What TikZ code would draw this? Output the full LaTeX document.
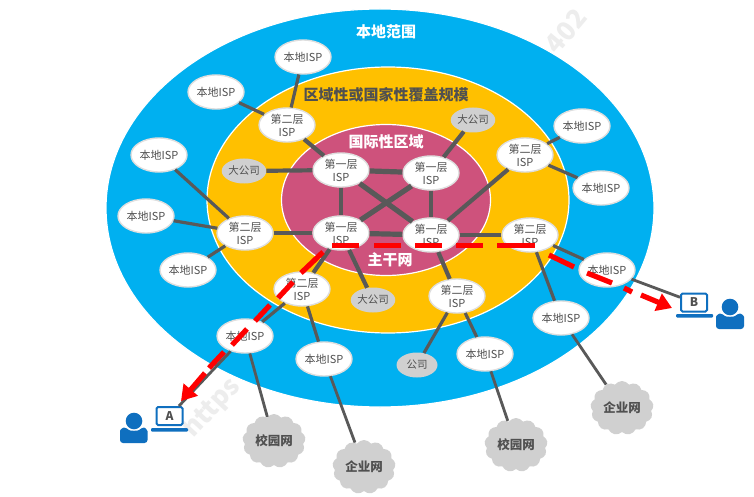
\documentclass[tikz,border=0pt]{standalone}
\usepackage{fontspec}
\setmainfont{Noto Sans CJK SC}
\usetikzlibrary{shapes.geometric,shapes.symbols,arrows.meta}
\definecolor{skyb}{HTML}{00B0F0}
\definecolor{amber}{HTML}{FFC000}
\definecolor{rose}{HTML}{CE527C}
\definecolor{ink}{HTML}{595959}
\definecolor{lbl}{HTML}{505050}
\definecolor{pale}{HTML}{D0D0D0}
\definecolor{devblue}{HTML}{0F6FBF}
\tikzset{
  x=1pt,y=-1pt,
  zone/.style={draw=white,line width=1.2pt,ellipse,inner sep=0pt},
  ispnode/.style={ellipse,draw=black!13,fill=white,line width=1.4pt,inner sep=0pt,minimum width=56pt,minimum height=34pt,text=lbl,font=\fontsize{11}{13}\selectfont,align=center},
  corp/.style={ellipse,fill=pale,inner sep=0pt,minimum width=41pt,minimum height=25pt,text=lbl,font=\fontsize{10.5}{12}\selectfont},
  campus/.style={cloud,cloud puffs=13,cloud puff arc=110,aspect=1.15,fill=pale,inner sep=0pt,minimum width=63pt,minimum height=54pt,text=lbl,font=\bfseries\fontsize{12.5}{14}\selectfont},
  thick1/.style={draw=ink,line width=5.2pt},
  thick2/.style={draw=ink,line width=4.2pt},
  thick3/.style={draw=ink,line width=3.2pt},
  thick4/.style={draw=ink,line width=2.8pt},
  redmark/.style={draw=red,line width=5.2pt},
  redtip/.style={draw=red,line width=5.2pt,-{Triangle[length=15pt,width=18pt]}},
  screen/.style={draw=devblue,fill=white,rounded corners=1.5pt,line width=2pt,inner sep=0pt,minimum width=26pt,minimum height=18pt,text=lbl,font=\bfseries\fontsize{12}{14}\selectfont},
  zonelabel/.style={font=\bfseries\fontsize{15}{18}\selectfont},
  wmark/.style={text=black!7,font=\bfseries\fontsize{26}{30}\selectfont}
}
\begin{document}
\begin{tikzpicture}
\useasboundingbox (0,0) rectangle (754,497);
\fill[white] (0,0) rectangle (754,497);
% watermark, under the zones
\node[wmark,rotate=47] (wmA) at (212,408) {https};
\node[wmark,rotate=50] (wmB) at (566,31) {402};
% zones
\node[zone,fill=skyb,minimum width=548pt,minimum height=398pt] (zoneA) at (380,208) {};
\node[zone,fill=amber,minimum width=362pt,minimum height=266pt] (zoneB) at (388,200) {};
\node[zone,fill=rose,minimum width=209pt,minimum height=151pt] (zoneC) at (386,200) {};
% zone labels
\node[zonelabel,text=white] (lblA) at (386,32) {本地范围};
\node[zonelabel,text=lbl] (lblB) at (386,95) {区域性或国家性覆盖规模};
\node[zonelabel,text=white] (lblC) at (386,142) {国际性区域};
\node[zonelabel,text=white] (lblD) at (390,260) {主干网};
% tier 1
\node[ispnode] (ta) at (341,170) {第一层\\ISP};
\node[ispnode] (tb) at (431,173) {第一层\\ISP};
\node[ispnode] (tc) at (341,233) {第一层\\ISP};
\node[ispnode] (td) at (431,235) {第一层\\ISP};
% tier 2
\node[ispnode] (sa) at (287,125) {第二层\\ISP};
\node[ispnode] (sb) at (245,233) {第二层\\ISP};
\node[ispnode] (sc) at (302,289) {第二层\\ISP};
\node[ispnode] (sd) at (457,296) {第二层\\ISP};
\node[ispnode] (se) at (530,235) {第二层\\ISP};
\node[ispnode] (sf) at (525,155) {第二层\\ISP};
% local
\node[ispnode] (la) at (303,57) {本地ISP};
\node[ispnode] (lb) at (216,92) {本地ISP};
\node[ispnode] (lc) at (159,155) {本地ISP};
\node[ispnode] (ld) at (146,216) {本地ISP};
\node[ispnode] (le) at (188,270) {本地ISP};
\node[ispnode] (lf) at (245,336) {本地ISP};
\node[ispnode] (lg) at (324,359) {本地ISP};
\node[ispnode] (lh) at (485,354) {本地ISP};
\node[ispnode] (li) at (561,318) {本地ISP};
\node[ispnode] (lj) at (607,270) {本地ISP};
\node[ispnode] (lk) at (601,188) {本地ISP};
\node[ispnode] (ll) at (582,126) {本地ISP};
% companies
\node[corp] (ca) at (244,171) {大公司};
\node[corp] (cb) at (473,120) {大公司};
\node[corp] (cc) at (373,300) {大公司};
\node[corp] (cd) at (417,365) {公司};
% clouds
\node[campus] (na) at (274,441) {校园网};
\node[campus] (nb) at (364,467) {企业网};
\node[campus] (nc) at (516,445) {校园网};
\node[campus] (nd) at (622,408) {企业网};
% laptops and users
\node[screen] (pcA) at (169.5,416) {A};
\node[screen] (pcB) at (694,302.5) {B};
\fill[devblue,rounded corners=1pt] (151,428) rectangle (188,431.5);
\fill[devblue,rounded corners=1pt] (676,314) rectangle (713,317.5);
\fill[devblue] (134,421) circle (8.3);
\fill[devblue] (730,307) circle (8.3);
\fill[devblue,rounded corners=3pt] (120,443) -- (120,434) .. controls (120,429) and (124,427.5) .. (127,428) .. controls (130,431) and (138,431) .. (141,428) .. controls (144,427.5) and (147.5,429) .. (147.5,434) -- (147.5,443) -- cycle;
\fill[devblue,rounded corners=3pt] (716,329) -- (716,320) .. controls (716,315) and (720,313.5) .. (723,314) .. controls (726,317) and (734,317) .. (737,314) .. controls (740,313.5) and (744,315) .. (744,320) -- (744,329) -- cycle;
% tier 1 mesh
\draw[thick1] (ta) -- (tb);
\draw[thick2] (ta) -- (tc);
\draw[thick1] (ta) -- (td);
\draw[thick1] (tb) -- (tc);
\draw[thick2] (tb) -- (td);
\draw[thick1] (tc) -- (td);
% tier 1 links
\draw[thick2] (ta) -- (sa);
\draw[thick2] (tc) -- (sb);
\draw[thick2] (tc) -- (sc);
\draw[thick2] (td) -- (sd);
\draw[thick2] (td) -- (se);
\draw[thick2] (td) -- (sf);
\draw[thick2] (ta) -- (ca);
\draw[thick2] (tb) -- (cb);
\draw[thick2] (tc) -- (cc);
% tier 2 links
\draw[thick3] (sa) -- (la);
\draw[thick3] (sa) -- (lb);
\draw[thick3] (sb) -- (lc);
\draw[thick3] (sb) -- (ld);
\draw[thick3] (sb) -- (le);
\draw[thick3] (sc) -- (lf);
\draw[thick3] (sc) -- (lg);
\draw[thick3] (sd) -- (cd);
\draw[thick3] (sd) -- (lh);
\draw[thick3] (se) -- (li);
\draw[thick3] (se) -- (lj);
\draw[thick3] (sf) -- (ll);
\draw[thick3] (sf) -- (lk);
% local links
\draw[thick4] (lf) -- (na);
\draw[thick4] (lg) -- (nb);
\draw[thick4] (lh) -- (nc);
\draw[thick4] (li) -- (nd);
\draw[thick4] (lf) -- (pcA);
\draw[thick4] (lj) -- (pcB);
% red route, horizontal part
\coordinate (h1) at (332,245.5); \coordinate (h2) at (359,245.5);
\coordinate (h3) at (374,245.5); \coordinate (h4) at (401,245.5);
\coordinate (h5) at (415,245.5); \coordinate (h6) at (442,245.5);
\coordinate (h7) at (456,245.5); \coordinate (h8) at (483,245.5);
\coordinate (h9) at (497,245.5); \coordinate (h10) at (535,245.5);
\draw[redmark] (h1) -- (h2) (h3) -- (h4) (h5) -- (h6) (h7) -- (h8) (h9) -- (h10);
% red route to B
\coordinate (r1) at (549,255); \coordinate (r2) at (574,267);
\coordinate (r3) at (587,273); \coordinate (r4) at (612,283);
\coordinate (r5) at (624,288); \coordinate (r6) at (632,292);
\coordinate (r7) at (641,295); \coordinate (r8) at (672,308);
\draw[redmark] (r1) -- (r2) (r3) -- (r4) (r5) -- (r6);
\draw[redtip] (r7) -- (r8);
% red route to A
\coordinate (q1) at (323,252); \coordinate (q2) at (301,273);
\coordinate (q3) at (293,282); \coordinate (q4) at (278,298);
\coordinate (q5) at (270,305); \coordinate (q6) at (255,321);
\coordinate (q7) at (247,329); \coordinate (q8) at (232,345);
\coordinate (q9) at (224,352); \coordinate (q10) at (209,368);
\coordinate (q11) at (205,373); \coordinate (q12) at (181,401);
\draw[redmark] (q1) -- (q2) (q3) -- (q4) (q5) -- (q6) (q7) -- (q8) (q9) -- (q10);
\draw[redtip] (q11) -- (q12);
\end{tikzpicture}
\end{document}
